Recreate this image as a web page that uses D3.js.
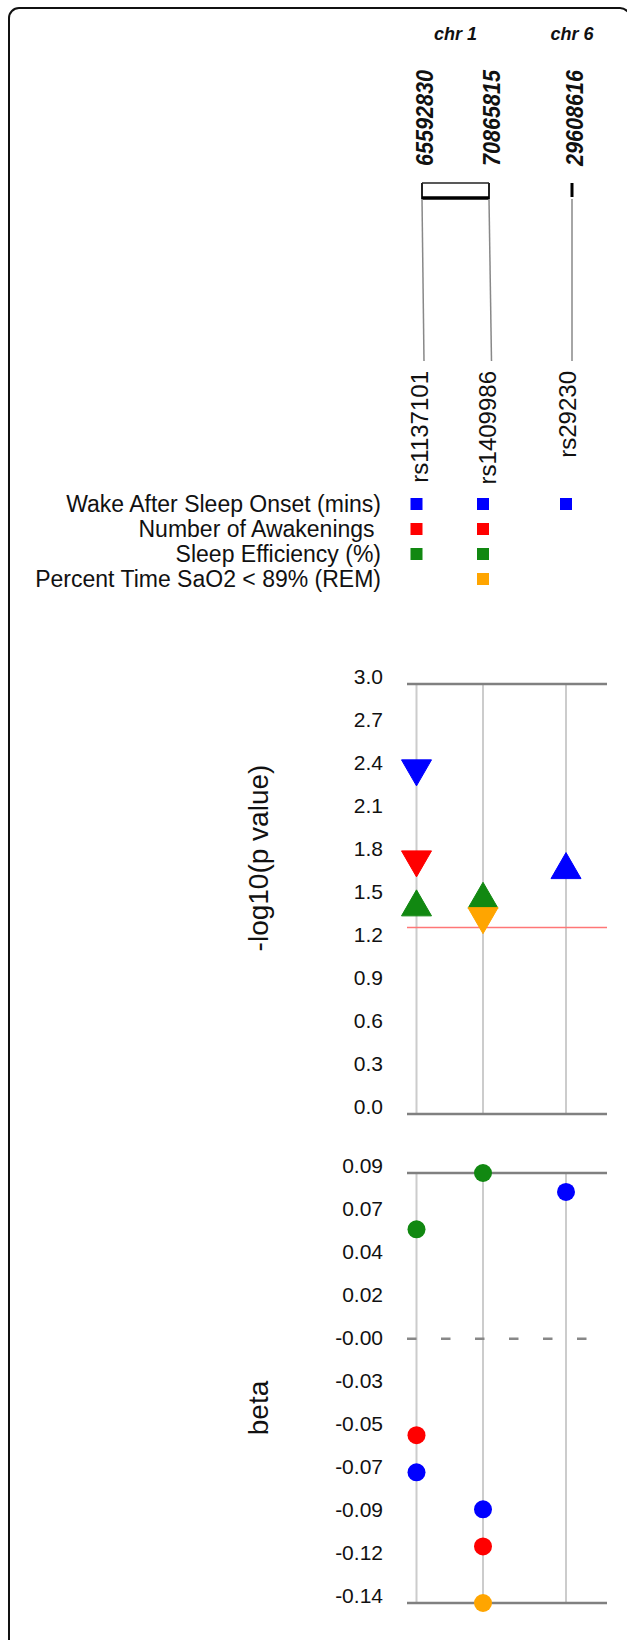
<!DOCTYPE html>
<html>
<head>
<meta charset="utf-8">
<script src="https://cdn.jsdelivr.net/npm/d3@7"></script>
<style>
  body { margin: 0; background: #fff; }
  text { font-family: "Liberation Sans", Arial, sans-serif; fill: #111; }
</style>
</head>
<body>
<svg id="chart" width="627" height="1640"></svg>
<script>
// ---- data ----
var snps      = ["rs1137101", "rs1409986", "rs29230"];
var snpChr    = ["chr 1", "chr 1", "chr 6"];
var snpPos    = [65592830, 70865815, 29608616];

var traits      = ["Wake After Sleep Onset (mins)", "Number of Awakenings ", "Sleep Efficiency (%)", "Percent Time SaO2 < 89% (REM)"];
var traitColors = ["#0000ff", "#ff0000", "#118811", "#ffa500"];

// one entry per association (snp index, trait index, -log10 p, beta)
var assocSnp   = [0, 0, 0, 1, 1, 1, 1, 2];
var assocTrait = [0, 1, 2, 0, 1, 2, 3, 0];
var assocLogP  = [2.38, 1.745, 1.473, null, null, 1.526, 1.349, 1.733];
var assocBeta  = [-0.072, -0.052, 0.059, -0.092, -0.112, 0.0894, -0.1425, 0.0792];

var pTickLabels    = ["0.0", "0.3", "0.6", "0.9", "1.2", "1.5", "1.8", "2.1", "2.4", "2.7", "3.0"];
var betaTickLabels = ["-0.14", "-0.12", "-0.09", "-0.07", "-0.05", "-0.03", "-0.00", "0.02", "0.04", "0.07", "0.09"];
var pThreshold = 1.301;   // -log10(0.05)

var svg = d3.select("#chart");

// frame round the figure (right and bottom sides run off the page)
svg.append("rect")
    .attr("x", 9).attr("y", 8).attr("width", 621).attr("height", 1700).attr("rx", 10)
    .attr("fill", "none").attr("stroke", "#111").attr("stroke-width", 2);

// ---- scales ----
var xPlot  = d3.scaleOrdinal().domain(snps).range([416.5, 483, 566]);     // plot columns
var xLabel = d3.scaleOrdinal().domain(snps).range([424, 491.5, 572]);     // snp labels
var chrNames = Array.from(new Set(snpChr));
var chrScale = {
    "chr 1": d3.scaleLinear().domain(d3.extent(snpPos.filter(function(p, i){ return snpChr[i] == "chr 1"; }))).range([422, 489]),
    "chr 6": d3.scaleLinear().domain([0, 1e9]).range([572, 572])
};
function gx(i) { return chrScale[snpChr[i]](snpPos[i]); }

var yP = d3.scaleLinear().domain([0, 3]).range([1114, 684]);
var yB = d3.scaleLinear().domain(d3.extent(assocBeta)).range([1603, 1173]);

// ---- genome header ----
chrNames.forEach(function(c) {
    var xs = snpChr.map(function(d, i){ return d == c ? gx(i) : null; }).filter(function(v){ return v !== null; });
    svg.append("text")
        .attr("x", d3.mean(xs)).attr("y", 34)
        .attr("text-anchor", "middle").attr("dominant-baseline", "central")
        .style("font-weight", "bold").style("font-style", "italic").style("font-size", "18px")
        .text(c);
    var x0 = d3.min(xs), x1 = d3.max(xs);
    if (x1 > x0) {
        svg.append("line").attr("x1", x0).attr("x2", x1).attr("y1", 183).attr("y2", 183)
            .attr("stroke", "#222").attr("stroke-width", 1.5);
        [x0, x1].forEach(function(x) {
            svg.append("line").attr("x1", x).attr("x2", x).attr("y1", 183).attr("y2", 199)
                .attr("stroke", "#222").attr("stroke-width", 2);
        });
        svg.append("line").attr("x1", x0).attr("x2", x1).attr("y1", 198).attr("y2", 198)
            .attr("stroke", "#000").attr("stroke-width", 3.5);
    } else {
        svg.append("line").attr("x1", x0).attr("x2", x0).attr("y1", 183).attr("y2", 197)
            .attr("stroke", "#000").attr("stroke-width", 3);
    }
});

snpPos.forEach(function(p, i) {
    svg.append("text")
        .attr("transform", "translate(" + (gx(i) + 3) + ",166) rotate(-90)")
        .attr("dominant-baseline", "central")
        .attr("textLength", 96).attr("lengthAdjust", "spacingAndGlyphs")
        .style("font-weight", "bold").style("font-style", "italic").style("font-size", "23.5px")
        .text(p);
    // connector from genome position to snp label
    svg.append("line")
        .attr("x1", gx(i)).attr("y1", 199).attr("x2", xLabel(snps[i])).attr("y2", 361)
        .attr("stroke", "#888").attr("stroke-width", 1.5);
});

svg.selectAll(".snp").data(snps).enter().append("text")
    .attr("transform", function(d){ return "translate(" + (xLabel(d) + 4) + ",371) rotate(-90)"; })
    .attr("text-anchor", "end")
    .style("font-size", "24px")
    .text(function(d){ return d; });

// ---- legend rows ----
var rowY = d3.scaleLinear().domain([0, 3]).range([504, 579]);
svg.selectAll(".trait").data(traits).enter().append("text")
    .attr("x", 381).attr("y", function(d, i){ return rowY(i); })
    .attr("text-anchor", "end").attr("dominant-baseline", "central")
    .style("font-size", "23px").style("white-space", "pre")
    .text(function(d){ return d; });

assocSnp.forEach(function(s, k) {
    svg.append("rect")
        .attr("x", xPlot(snps[s]) - 6).attr("y", rowY(assocTrait[k]) - 6)
        .attr("width", 12).attr("height", 12)
        .attr("fill", traitColors[assocTrait[k]]);
});

// ---- panel helper ----
function panelFrame(y, ticks, labels, title, titleY) {
    var top = y.range()[1], bot = y.range()[0];
    snps.forEach(function(s) {
        svg.append("line").attr("x1", xPlot(s)).attr("x2", xPlot(s)).attr("y1", top).attr("y2", bot)
            .attr("stroke", "#cccccc").attr("stroke-width", 2);
    });
    [top, bot].forEach(function(yy) {
        svg.append("line").attr("x1", 407).attr("x2", 607).attr("y1", yy).attr("y2", yy)
            .attr("stroke", "#808080").attr("stroke-width", 2.5);
    });
    ticks.forEach(function(v, i) {
        svg.append("text")
            .attr("x", 383).attr("y", y(v) - 7.5)
            .attr("text-anchor", "end").attr("dominant-baseline", "central")
            .style("font-size", "21px")
            .text(labels[i]);
    });
    svg.append("text")
        .attr("transform", "translate(258," + titleY + ") rotate(-90)")
        .attr("text-anchor", "middle").attr("dominant-baseline", "central")
        .style("font-size", "28px")
        .text(title);
}

// ---- -log10(p) panel ----
var pTicks = pTickLabels.map(function(d){ return +d; });
panelFrame(yP, pTicks, pTickLabels, "-log10(p value)", 858);

svg.append("line").attr("x1", 407).attr("x2", 607).attr("y1", yP(pThreshold)).attr("y2", yP(pThreshold))
    .attr("stroke", "#ff7777").attr("stroke-width", 1.5);

var tri = d3.line();
assocSnp.forEach(function(s, k) {
    if (assocLogP[k] === null) return;
    var cx = xPlot(snps[s]), cy = yP(assocLogP[k]);
    var dir = assocBeta[k] < 0 ? -1 : 1;
    var pts = [[cx, cy - 13 * dir], [cx - 15, cy + 13 * dir], [cx + 15, cy + 13 * dir]];
    svg.append("path")
        .attr("d", tri(pts) + "Z")
        .attr("fill", traitColors[assocTrait[k]])
        .attr("stroke", traitColors[assocTrait[k]]).attr("stroke-width", 1);
});

// ---- beta panel ----
var bExt = yB.domain();
var bTicks = d3.range(11).map(function(i){ return bExt[0] + i * (bExt[1] - bExt[0]) / 10; });
panelFrame(yB, bTicks, betaTickLabels, "beta", 1408);

svg.append("line").attr("x1", 407).attr("x2", 590).attr("y1", yB(0)).attr("y2", yB(0))
    .attr("stroke", "#888").attr("stroke-width", 2.5).attr("stroke-dasharray", "9.5,24.5");

assocSnp.forEach(function(s, k) {
    svg.append("circle")
        .attr("cx", xPlot(snps[s])).attr("cy", yB(assocBeta[k])).attr("r", 9)
        .attr("fill", traitColors[assocTrait[k]]);
});
</script>
</body>
</html>
